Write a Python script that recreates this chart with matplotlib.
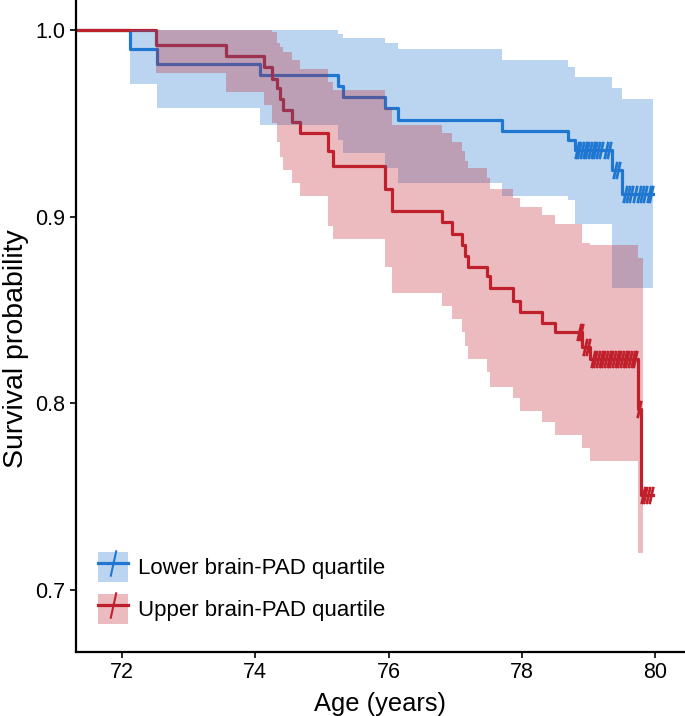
import matplotlib
matplotlib.use('Agg')
import matplotlib.pyplot as plt
from matplotlib.path import Path
from matplotlib.patches import Patch
from matplotlib.lines import Line2D
from matplotlib.legend_handler import HandlerTuple

plt.rcParams['font.family'] = ['Liberation Sans', 'DejaVu Sans']

### values

# lower brain-PAD quartile
low_time = [71.0, 72.13, 72.53, 74.07, 75.24, 75.32, 75.95, 76.14, 77.70,
            78.69, 78.79, 79.35, 79.50, 79.96]
low_surv = [1.0, 0.990, 0.982, 0.976, 0.970, 0.964, 0.958, 0.952, 0.946,
            0.941, 0.936, 0.925, 0.912, 0.912]
low_upper = [1.0, 1.0, 1.0, 1.0, 0.998, 0.996, 0.993, 0.990, 0.984,
             0.980, 0.975, 0.969, 0.963, 0.963]
low_lower = [1.0, 0.971, 0.958, 0.949, 0.941, 0.934, 0.926, 0.918, 0.911,
             0.909, 0.896, 0.862, 0.862, 0.862]
low_cens_time = [78.82, 78.86, 78.90, 78.94, 78.98, 79.02, 79.06, 79.10,
                 79.14, 79.18, 79.26, 79.30, 79.40, 79.44, 79.55, 79.59,
                 79.63, 79.69, 79.75, 79.80, 79.85, 79.90, 79.94]
low_cens_surv = [0.936] * 12 + [0.925] * 2 + [0.912] * 9

# upper brain-PAD quartile
up_time = [71.0, 72.51, 73.57, 74.13, 74.25, 74.33, 74.37, 74.42, 74.55,
           74.67, 75.09, 75.17, 75.95, 76.05, 76.80, 76.95, 77.10, 77.15,
           77.19, 77.48, 77.52, 77.87, 77.97, 78.30, 78.49, 78.90, 79.02,
           79.74, 79.78, 79.96]
up_surv = [1.0, 0.992, 0.986, 0.980, 0.974, 0.969, 0.963, 0.957, 0.951,
           0.945, 0.935, 0.927, 0.915, 0.903, 0.897, 0.891, 0.885, 0.879,
           0.873, 0.868, 0.862, 0.855, 0.849, 0.843, 0.838, 0.830, 0.824,
           0.797, 0.751, 0.751]
up_upper = [1.0, 1.0, 1.0, 1.0, 0.999, 0.993, 0.991, 0.988, 0.984,
            0.979, 0.972, 0.968, 0.958, 0.949, 0.945, 0.940, 0.935, 0.930,
            0.926, 0.921, 0.915, 0.910, 0.905, 0.901, 0.896, 0.886, 0.885,
            0.878, 0.878]
up_lower = [1.0, 0.977, 0.967, 0.960, 0.950, 0.940, 0.932, 0.925, 0.918,
            0.911, 0.895, 0.888, 0.873, 0.859, 0.852, 0.845, 0.838, 0.831,
            0.824, 0.817, 0.809, 0.803, 0.796, 0.790, 0.783, 0.776, 0.769,
            0.720, 0.720]
up_band_end = 79.81
up_cens_time = [78.85, 78.88, 78.95, 78.99, 79.06, 79.10, 79.14, 79.18,
                79.22, 79.26, 79.30, 79.34, 79.38, 79.42, 79.46, 79.50,
                79.54, 79.58, 79.62, 79.66, 79.70, 79.76, 79.81, 79.85,
                79.89, 79.93]
up_cens_surv = [0.838] * 2 + [0.830] * 2 + [0.824] * 17 + [0.797] + [0.751] * 4

labels = ['Lower brain-PAD quartile', 'Upper brain-PAD quartile']
xticks = [72, 74, 76, 78, 80]
yticks = [0.7, 0.8, 0.9, 1.0]

blue = '#1f77d2'
red = '#c0202c'

# censor tick: short slanted stroke
cens = Path([(-0.22, -1.0), (0.22, 1.0)], [Path.MOVETO, Path.LINETO])

fig = plt.figure(figsize=(6.85, 7.16), dpi=100)
ax = fig.add_axes([76 / 685, 1 - 652 / 716, 609 / 685, 652 / 716])

# curves first, ribbons drawn over them
ax.step(low_time, low_surv, where='post', color=blue, lw=2.3, zorder=2)
ax.step(up_time, up_surv, where='post', color=red, lw=2.3, zorder=2)
ax.plot(low_cens_time, low_cens_surv, ls='none', marker=cens, ms=12.5,
        mew=2.0, color=blue, zorder=2)
ax.plot(up_cens_time, up_cens_surv, ls='none', marker=cens, ms=12.5,
        mew=2.0, color=red, zorder=2)

ax.fill_between(low_time, low_lower, low_upper, step='post', color=blue,
                alpha=0.3, lw=0, zorder=3)
band_t = up_time[:-1] + [up_band_end]
ax.fill_between(band_t, up_lower + [up_lower[-1]], up_upper + [up_upper[-1]],
                step='post', color=red, alpha=0.3, lw=0, zorder=3)

ax.set_xlim(71.318, 80.442)
ax.set_ylim(0.6668, 1.0161)
ax.set_xticks(xticks)
ax.set_yticks(yticks)
ax.set_yticklabels(['%.1f' % v for v in yticks])
ax.tick_params(labelsize=15.5, length=4, width=1.2, colors='black')
for s in ['top', 'right']:
    ax.spines[s].set_visible(False)
for s in ['left', 'bottom']:
    ax.spines[s].set_linewidth(1.6)

ax.set_xlabel('Age (years)', fontsize=18.4, labelpad=6)
ax.set_ylabel('Survival probability', fontsize=20.5, labelpad=5, y=0.466)

handles = []
for c in [blue, red]:
    handles.append((Patch(facecolor=c, alpha=0.3, lw=0),
                    Line2D([], [], color=c, lw=2.3, marker=cens, ms=19, mew=1.5)))
ax.legend(handles, labels, loc='lower left', bbox_to_anchor=(0.036, 0.043),
          frameon=False, fontsize=16, borderpad=0, borderaxespad=0,
          handlelength=1.36, handleheight=1.7, handletextpad=0.45,
          labelspacing=0.55, handler_map={tuple: HandlerTuple(ndivide=1)})

fig.savefig('out.png', dpi=100)
